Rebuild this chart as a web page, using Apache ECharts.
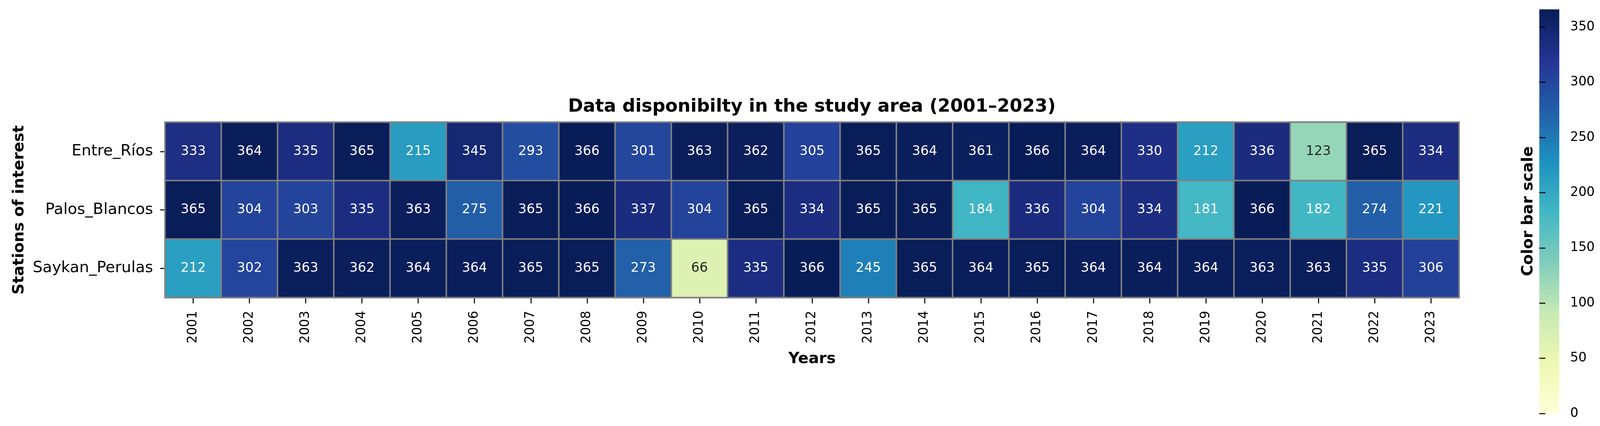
<!DOCTYPE html>
<html>
<head>
<meta charset="utf-8">
<title>Data disponibilty in the study area (2001–2023)</title>
<script src="https://cdn.jsdelivr.net/npm/echarts@6/dist/echarts.min.js"></script>
<style>
  html, body { margin: 0; padding: 0; background: #ffffff; overflow: hidden; }
  #main { width: 100vw; height: 100vh; }
</style>
</head>
<body>
<div id="main"></div>
<script>
// 数据
var years = ['2001', '2002', '2003', '2004', '2005', '2006', '2007', '2008', '2009', '2010', '2011', '2012',
  '2013', '2014', '2015', '2016', '2017', '2018', '2019', '2020', '2021', '2022', '2023'];
var stations = ['Entre_Ríos', 'Palos_Blancos', 'Saykan_Perulas'];

var entreRios = [333, 364, 335, 365, 215, 345, 293, 366, 301, 363, 362, 305, 365, 364, 361, 366, 364, 330, 212, 336, 123, 365, 334];
var palosBlancos = [365, 304, 303, 335, 363, 275, 365, 366, 337, 304, 365, 334, 365, 365, 184, 336, 304, 334, 181, 366, 182, 274, 221];
var saykanPerulas = [212, 302, 363, 362, 364, 364, 365, 365, 273, 66, 335, 366, 245, 365, 364, 365, 364, 364, 364, 363, 363, 335, 306];

var cbarMin = 0;
var cbarMax = 366;
var cbarTicks = [0, 50, 100, 150, 200, 250, 300, 350];

// YlGnBu
var ylGnBu = ['#ffffd9', '#edf8b1', '#c7e9b4', '#7fcdbb', '#41b6c4', '#1d91c0', '#225ea8', '#253494', '#081d58'];

var rows = [entreRios, palosBlancos, saykanPerulas];
var heatData = [];
for (var i = 0; i < rows.length; i++) {
  for (var j = 0; j < rows[i].length; j++) {
    var v = rows[i][j];
    heatData.push({
      value: [j, i, v],
      label: { color: v < 150 ? '#262626' : '#ffffff' }
    });
  }
}

// 按窗口大小缩放 (参考图 4245 x 1091)
var dom = document.getElementById('main');
var W = dom.clientWidth || 4245;
var H = dom.clientHeight || 1091;
var sx = W / 4245;
var sy = H / 1091;
var sf = Math.min(sx, sy);
function px(x) { return x * sx; }
function py(y) { return y * sy; }
function fs(f) { return f * sf; }

// 色条渐变 (底部为最小值)
var cbarStops = ylGnBu.map(function (c, k) {
  return { offset: 1 - k / (ylGnBu.length - 1), color: c };
});

var chart = echarts.init(dom);

chart.setOption({
  animation: false,
  textStyle: { fontFamily: 'DejaVu Sans' },
  title: {
    text: 'Data disponibilty in the study area (2001–2023)',
    left: px(2154) - 5,
    top: py(251) - 5,
    textAlign: 'center',
    textStyle: { fontSize: fs(48), fontWeight: 'bold', color: '#000000', fontFamily: 'DejaVu Sans' }
  },
  grid: [
    { left: px(438), right: W - px(3871), top: py(313), bottom: H - py(762) },
    { left: px(4084), top: py(24), width: px(53), height: py(1035) }
  ],
  xAxis: [
    {
      type: 'category',
      gridIndex: 0,
      data: years,
      name: 'Years',
      nameLocation: 'middle',
      nameGap: py(138),
      nameTextStyle: { fontSize: fs(41), fontWeight: 'bold', color: '#000000' },
      axisLine: { show: false },
      axisTick: { show: true, alignWithLabel: true, length: py(15), lineStyle: { color: '#000000', width: fs(2.7) } },
      axisLabel: { rotate: 90, fontSize: fs(34), color: '#000000', margin: py(34), interval: 0 },
      splitLine: { show: false }
    },
    {
      type: 'value',
      gridIndex: 1,
      show: false,
      min: 0,
      max: 1
    }
  ],
  yAxis: [
    {
      type: 'category',
      gridIndex: 0,
      data: stations,
      inverse: true,
      name: 'Stations of interest',
      nameLocation: 'middle',
      nameGap: px(366),
      nameTextStyle: { fontSize: fs(41), fontWeight: 'bold', color: '#000000' },
      axisLine: { show: false },
      axisTick: { show: true, alignWithLabel: true, length: px(13), lineStyle: { color: '#000000', width: fs(2.7) } },
      axisLabel: { fontSize: fs(41), color: '#000000', margin: px(32) },
      splitLine: { show: false }
    },
    {
      type: 'value',
      gridIndex: 1,
      position: 'right',
      min: cbarMin,
      max: cbarMax,
      axisLine: { show: false },
      axisTick: { show: true, length: px(16), customValues: cbarTicks, lineStyle: { color: '#000000', width: fs(2.7) } },
      axisLabel: { fontSize: fs(34), color: '#000000', margin: px(29), customValues: cbarTicks },
      splitLine: { show: false }
    }
  ],
  visualMap: {
    type: 'continuous',
    show: false,
    seriesIndex: 0,
    min: cbarMin,
    max: cbarMax,
    inRange: { color: ylGnBu }
  },
  graphic: [
    {
      type: 'rect',
      shape: { x: px(4084), y: py(24), width: px(53), height: py(1035) },
      style: {
        fill: new echarts.graphic.LinearGradient(0, 0, 0, 1, cbarStops)
      },
      silent: true
    },
    {
      type: 'text',
      x: px(4055),
      y: py(541),
      rotation: Math.PI / 2,
      style: {
        text: 'Color bar scale',
        fontSize: fs(41),
        fontWeight: 'bold',
        fontFamily: 'DejaVu Sans',
        fill: '#000000',
        align: 'center',
        verticalAlign: 'middle'
      }
    }
  ],
  series: [
    {
      name: 'Data disponibility',
      type: 'heatmap',
      xAxisIndex: 0,
      yAxisIndex: 0,
      data: heatData,
      label: {
        show: true,
        fontSize: fs(35),
        fontFamily: 'DejaVu Sans',
        formatter: function (params) {
          return params.value[2];
        }
      },
      itemStyle: { borderColor: '#808080', borderWidth: fs(4) },
      emphasis: { disabled: true }
    }
  ]
});
</script>
</body>
</html>
